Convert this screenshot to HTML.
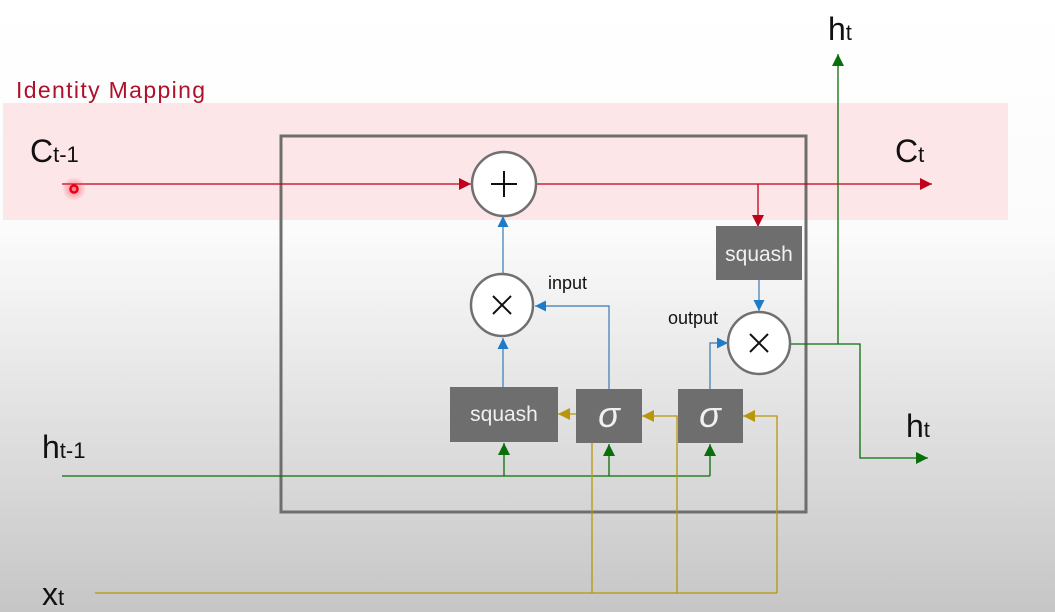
<!DOCTYPE html>
<html><head><meta charset="utf-8"><style>
html,body{margin:0;padding:0;width:1055px;height:612px;overflow:hidden}
svg{display:block}
text{font-family:"Liberation Sans","DejaVu Sans",sans-serif}
</style></head><body>
<svg width="1055" height="612" viewBox="0 0 1055 612">
<defs>
<linearGradient id="bg" x1="0" y1="0" x2="0" y2="1">
<stop offset="0" stop-color="#ffffff"/><stop offset="0.38" stop-color="#fbfbfb"/><stop offset="1" stop-color="#c6c6c6"/>
</linearGradient>
<marker id="ar" viewBox="0 0 10 10" refX="10" refY="5" markerWidth="12" markerHeight="12" markerUnits="userSpaceOnUse" orient="auto"><path d="M0,0L10,5L0,10z" fill="#c0001a"/></marker>
<marker id="ab" viewBox="0 0 10 10" refX="10" refY="5" markerWidth="11" markerHeight="11" markerUnits="userSpaceOnUse" orient="auto"><path d="M0,0L10,5L0,10z" fill="#1f7ac8"/></marker>
<marker id="ag" viewBox="0 0 10 10" refX="10" refY="5" markerWidth="12" markerHeight="12" markerUnits="userSpaceOnUse" orient="auto"><path d="M0,0L10,5L0,10z" fill="#0a6e0a"/></marker>
<marker id="ay" viewBox="0 0 10 10" refX="10" refY="5" markerWidth="12" markerHeight="12" markerUnits="userSpaceOnUse" orient="auto"><path d="M0,0L10,5L0,10z" fill="#b8960a"/></marker>
<radialGradient id="glow"><stop offset="0" stop-color="#ff3040" stop-opacity="0.6"/><stop offset="1" stop-color="#ff3040" stop-opacity="0"/></radialGradient>
</defs>
<rect width="1055" height="612" fill="url(#bg)"/>
<rect x="3" y="103" width="1005" height="117" fill="#fde6e8"/>
<text x="16" y="98" font-size="23" fill="#b0102a" textLength="189">Identity Mapping</text>

<rect x="281" y="136" width="525" height="376" fill="none" stroke="#6e6e6e" stroke-width="3"/>

<g stroke="#c0001a" stroke-width="1.3" fill="none">
<line x1="62" y1="184" x2="471" y2="184" marker-end="url(#ar)"/>
<line x1="537" y1="184" x2="932" y2="184" marker-end="url(#ar)"/>
<polyline points="758,184 758,227" marker-end="url(#ar)"/>
</g>
<circle cx="74" cy="189" r="12" fill="url(#glow)"/>
<circle cx="74" cy="189" r="3.5" fill="none" stroke="#e8001a" stroke-width="2.5"/>

<g stroke="#3a78b8" stroke-width="1.2" fill="none">
<line x1="503" y1="273" x2="503" y2="216" marker-end="url(#ab)"/>
<line x1="503" y1="387" x2="503" y2="338" marker-end="url(#ab)"/>
<polyline points="609,389 609,306 535,306" marker-end="url(#ab)"/>
<line x1="759" y1="280" x2="759" y2="311" marker-end="url(#ab)"/>
<polyline points="710,389 710,343 728,343" marker-end="url(#ab)"/>
</g>

<g stroke="#0a6e0a" stroke-width="1.3" fill="none">
<line x1="62" y1="476" x2="710" y2="476"/>
<line x1="504" y1="476" x2="504" y2="443" marker-end="url(#ag)"/>
<line x1="609" y1="476" x2="609" y2="444" marker-end="url(#ag)"/>
<line x1="710" y1="476" x2="710" y2="444" marker-end="url(#ag)"/>
<polyline points="791,344 860,344 860,458 928,458" marker-end="url(#ag)"/>
<line x1="838" y1="344" x2="838" y2="54" marker-end="url(#ag)"/>
</g>

<g stroke="#b8960a" stroke-width="1.3" fill="none">
<line x1="95" y1="593" x2="777" y2="593"/>
<polyline points="592,593 592,414 558,414" marker-end="url(#ay)"/>
<polyline points="677,593 677,416 642,416" marker-end="url(#ay)"/>
<polyline points="777,593 777,416 743,416" marker-end="url(#ay)"/>
</g>

<g fill="#fff" stroke="#707070" stroke-width="2.5">
<circle cx="504" cy="184" r="32"/>
<circle cx="502" cy="305" r="31"/>
<circle cx="759" cy="343" r="31"/>
</g>
<g stroke="#111" stroke-width="2">
<line x1="504" y1="171" x2="504" y2="197"/><line x1="491" y1="184" x2="517" y2="184"/>
<line x1="493" y1="296" x2="511" y2="314"/><line x1="511" y1="296" x2="493" y2="314"/>
<line x1="750" y1="334" x2="768" y2="352"/><line x1="768" y1="334" x2="750" y2="352"/>
</g>

<g fill="#6e6e6e">
<rect x="716" y="226" width="86" height="54"/>
<rect x="450" y="387" width="108" height="55"/>
<rect x="576" y="389" width="66" height="54"/>
<rect x="678" y="389" width="65" height="54"/>
</g>
<g fill="#f0f0f0">
<text x="759" y="261" font-size="21" text-anchor="middle">squash</text>
<text x="504" y="421" font-size="21" text-anchor="middle">squash</text>
<text x="609" y="427" font-size="36" font-style="italic" text-anchor="middle" font-family="Liberation Serif,serif">σ</text>
<text x="710" y="427" font-size="36" font-style="italic" text-anchor="middle" font-family="Liberation Serif,serif">σ</text>
</g>
<text x="548" y="289" font-size="18" fill="#111">input</text>
<text x="668" y="324" font-size="18" fill="#111">output</text>

<g fill="#111">
<text x="30" y="162" font-size="32">C<tspan font-size="22">t-1</tspan></text>
<text x="895" y="162" font-size="32">C<tspan font-size="22">t</tspan></text>
<text x="828" y="40" font-size="32">h<tspan font-size="22">t</tspan></text>
<text x="906" y="437" font-size="32">h<tspan font-size="22">t</tspan></text>
<text x="42" y="458" font-size="32">h<tspan font-size="22">t-1</tspan></text>
<text x="42" y="605" font-size="32">x<tspan font-size="22">t</tspan></text>
</g>
</svg>
</body></html>
